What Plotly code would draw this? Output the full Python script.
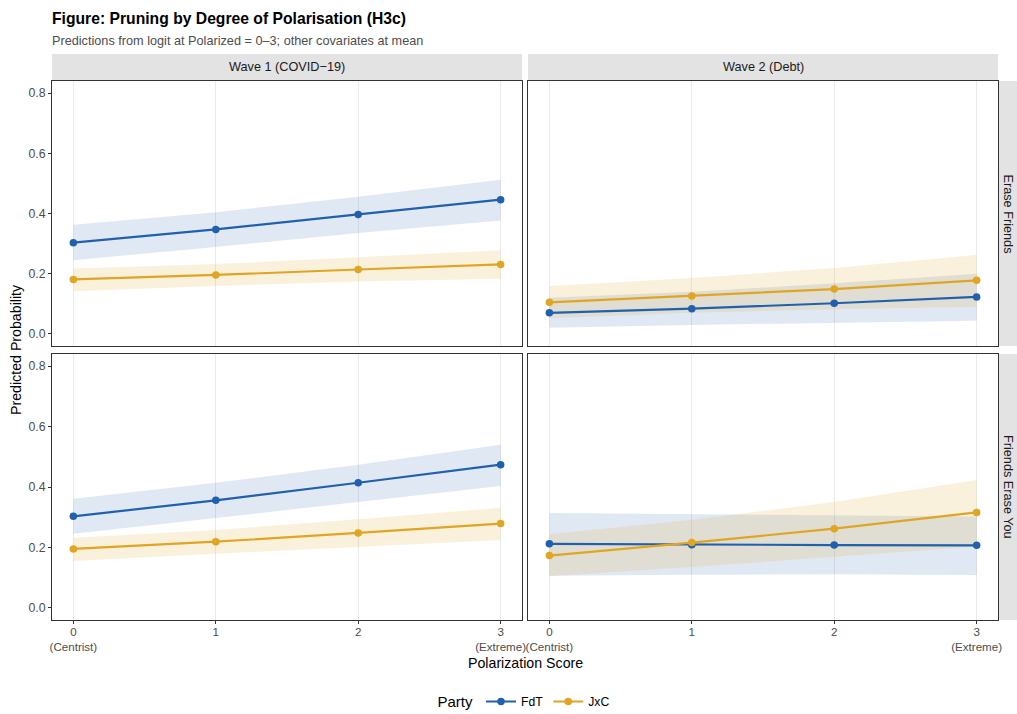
import plotly.graph_objects as go

# ---------------- data ----------------
polarization = [0, 1, 2, 3]
x_tick_labels = ["0<br>(Centrist)", "1", "2", "3<br>(Extreme)"]
y_ticks = [0.0, 0.2, 0.4, 0.6, 0.8]
y_tick_labels = ["0.0", "0.2", "0.4", "0.6", "0.8"]
waves = ["Wave 1 (COVID\u221219)", "Wave 2 (Debt)"]
outcomes = ["Erase Friends", "Friends Erase You"]
parties = ["FdT", "JxC"]

# Erase Friends, Wave 1
ef_w1_fdt = [0.303, 0.347, 0.397, 0.446]
ef_w1_fdt_lo = [0.245, 0.289, 0.335, 0.377]
ef_w1_fdt_hi = [0.363, 0.404, 0.456, 0.512]
ef_w1_jxc = [0.181, 0.196, 0.214, 0.231]
ef_w1_jxc_lo = [0.142, 0.159, 0.174, 0.183]
ef_w1_jxc_hi = [0.217, 0.232, 0.255, 0.278]

# Erase Friends, Wave 2
ef_w2_fdt = [0.070, 0.084, 0.102, 0.123]
ef_w2_fdt_lo = [0.021, 0.030, 0.038, 0.044]
ef_w2_fdt_hi = [0.120, 0.140, 0.168, 0.200]
ef_w2_jxc = [0.105, 0.126, 0.149, 0.178]
ef_w2_jxc_lo = [0.052, 0.070, 0.082, 0.090]
ef_w2_jxc_hi = [0.159, 0.186, 0.219, 0.262]

# Friends Erase You, Wave 1
fe_w1_fdt = [0.303, 0.356, 0.414, 0.474]
fe_w1_fdt_lo = [0.245, 0.297, 0.351, 0.403]
fe_w1_fdt_hi = [0.361, 0.414, 0.474, 0.540]
fe_w1_jxc = [0.195, 0.219, 0.248, 0.279]
fe_w1_jxc_lo = [0.155, 0.179, 0.203, 0.225]
fe_w1_jxc_hi = [0.232, 0.258, 0.293, 0.331]

# Friends Erase You, Wave 2
fe_w2_fdt = [0.212, 0.209, 0.208, 0.207]
fe_w2_fdt_lo = [0.106, 0.110, 0.111, 0.109]
fe_w2_fdt_hi = [0.314, 0.310, 0.306, 0.302]
fe_w2_jxc = [0.173, 0.216, 0.262, 0.316]
fe_w2_jxc_lo = [0.105, 0.135, 0.170, 0.203]
fe_w2_jxc_hi = [0.244, 0.292, 0.350, 0.423]

panels = [
    # (row, col, fdt, fdt_lo, fdt_hi, jxc, jxc_lo, jxc_hi)
    (0, 0, ef_w1_fdt, ef_w1_fdt_lo, ef_w1_fdt_hi, ef_w1_jxc, ef_w1_jxc_lo, ef_w1_jxc_hi),
    (0, 1, ef_w2_fdt, ef_w2_fdt_lo, ef_w2_fdt_hi, ef_w2_jxc, ef_w2_jxc_lo, ef_w2_jxc_hi),
    (1, 0, fe_w1_fdt, fe_w1_fdt_lo, fe_w1_fdt_hi, fe_w1_jxc, fe_w1_jxc_lo, fe_w1_jxc_hi),
    (1, 1, fe_w2_fdt, fe_w2_fdt_lo, fe_w2_fdt_hi, fe_w2_jxc, fe_w2_jxc_lo, fe_w2_jxc_hi),
]

# ---------------- styling ----------------
W, H = 1017, 714
FONT = "Liberation Sans, Arial, sans-serif"
colors = {"FdT": "#2160AC", "JxC": "#E0A523"}
band_colors = {"FdT": "rgba(33,96,172,0.14)", "JxC": "rgba(224,165,35,0.16)"}
TICK_SIZE = 12.3
XTICK_SIZE = 11.6
STRIP_SIZE = 12.7

col_px = [(52, 522), (528, 998)]
row_px = [(81, 346), (354, 620)]


def px_x(p):
    return p / W


def px_y(p):
    return 1 - p / H


fig = go.Figure()
layout = {}

for idx, (r, c, fdt, fdt_lo, fdt_hi, jxc, jxc_lo, jxc_hi) in enumerate(panels):
    n = idx + 1
    xa = "x" if n == 1 else f"x{n}"
    ya = "y" if n == 1 else f"y{n}"
    series = {"FdT": (fdt, fdt_lo, fdt_hi), "JxC": (jxc, jxc_lo, jxc_hi)}
    for party in parties:
        mean, lo, hi = series[party]
        fig.add_trace(go.Scatter(
            x=polarization + polarization[::-1], y=hi + lo[::-1],
            fill="toself", fillcolor=band_colors[party], line=dict(width=0),
            mode="lines", hoverinfo="skip", showlegend=False,
            xaxis=xa, yaxis=ya))
    for party in parties:
        mean, lo, hi = series[party]
        fig.add_trace(go.Scatter(
            x=polarization, y=mean, mode="lines+markers", name=party,
            line=dict(color=colors[party], width=2.2),
            marker=dict(color=colors[party], size=7.5),
            showlegend=(n == 1), legendgroup=party,
            xaxis=xa, yaxis=ya))

    x0, x1 = col_px[c]
    y0, y1 = row_px[r]
    xkey = "xaxis" if n == 1 else f"xaxis{n}"
    ykey = "yaxis" if n == 1 else f"yaxis{n}"
    layout[xkey] = dict(
        domain=[px_x(x0), px_x(x1)], anchor=ya, range=[-0.15, 3.15],
        automargin=False,
        tickvals=polarization, ticktext=x_tick_labels,
        showticklabels=(r == 1), ticks="outside" if r == 1 else "",
        ticklen=3, tickcolor="#333333", ticklabelstandoff=-2,
        showgrid=True, gridcolor="#EBEBEB",
        gridwidth=1, zeroline=False, showline=True, mirror=True,
        linecolor="#333333", linewidth=1,
        tickfont=dict(family=FONT, size=XTICK_SIZE, color="#4D4D4D"))
    layout[ykey] = dict(
        domain=[px_y(y1), px_y(y0)], anchor=xa, range=[-0.04, 0.84],
        automargin=False,
        tickvals=y_ticks, ticktext=y_tick_labels,
        showticklabels=(c == 0), ticks="outside" if c == 0 else "",
        ticklen=3, tickcolor="#333333", showgrid=False, zeroline=False,
        showline=True, mirror=True, linecolor="#333333", linewidth=1,
        tickfont=dict(family=FONT, size=TICK_SIZE, color="#4D4D4D"))

shapes = []
annotations = []
# top strips
for c, wave in enumerate(waves):
    x0, x1 = col_px[c]
    shapes.append(dict(type="rect", xref="paper", yref="paper",
                       x0=px_x(x0), x1=px_x(x1), y0=px_y(80), y1=px_y(54),
                       fillcolor="#E3E3E3", line=dict(width=0), layer="below"))
    annotations.append(dict(text=wave, xref="paper", yref="paper",
                            x=px_x((x0 + x1) / 2), y=px_y(67), showarrow=False,
                            xanchor="center", yanchor="middle",
                            font=dict(family=FONT, size=STRIP_SIZE, color="#1A1A1A")))
# right strips
for r, outcome in enumerate(outcomes):
    y0, y1 = row_px[r]
    shapes.append(dict(type="rect", xref="paper", yref="paper",
                       x0=px_x(999), x1=1.0, y0=px_y(y1), y1=px_y(y0),
                       fillcolor="#E3E3E3", line=dict(width=0), layer="below"))
    annotations.append(dict(text=outcome, xref="paper", yref="paper",
                            x=px_x(1008), y=px_y((y0 + y1) / 2), showarrow=False,
                            textangle=90, xanchor="center", yanchor="middle",
                            font=dict(family=FONT, size=STRIP_SIZE, color="#1A1A1A")))

# titles
annotations.append(dict(text="<b>Figure: Pruning by Degree of Polarisation (H3c)</b>",
                        xref="paper", yref="paper", x=px_x(50), y=px_y(18),
                        xanchor="left", yanchor="middle", showarrow=False,
                        font=dict(family=FONT, size=15.7, color="#000000")))
annotations.append(dict(text="Predictions from logit at Polarized = 0\u20133; other covariates at mean",
                        xref="paper", yref="paper", x=px_x(50), y=px_y(41),
                        xanchor="left", yanchor="middle", showarrow=False,
                        font=dict(family=FONT, size=12.7, color="#4D4D4D")))
annotations.append(dict(text="Predicted Probability", xref="paper", yref="paper",
                        x=px_x(16), y=px_y(350), textangle=-90, showarrow=False,
                        xanchor="center", yanchor="middle",
                        font=dict(family=FONT, size=14.2, color="#000000")))
annotations.append(dict(text="Polarization Score", xref="paper", yref="paper",
                        x=px_x(525), y=px_y(663), showarrow=False,
                        xanchor="center", yanchor="middle",
                        font=dict(family=FONT, size=14.2, color="#000000")))

fig.update_layout(
    width=W, height=H, margin=dict(l=0, r=0, t=0, b=0, autoexpand=False),
    paper_bgcolor="white", plot_bgcolor="white",
    shapes=shapes, annotations=annotations,
    legend=dict(orientation="h", x=px_x(525), xanchor="center",
                y=px_y(702), yanchor="middle",
                title=dict(text="Party", font=dict(family=FONT, size=15, color="#000")),
                font=dict(family=FONT, size=12.2, color="#000"), itemwidth=30,
                bgcolor="rgba(0,0,0,0)"),
    showlegend=True,
    **layout)

fig.write_html("out.html")
